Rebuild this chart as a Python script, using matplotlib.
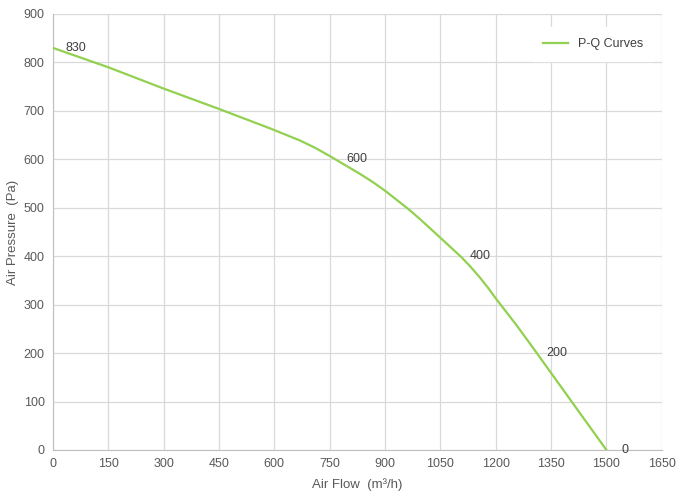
import matplotlib.pyplot as plt

plt.rcParams['font.family'] = ['Liberation Sans', 'DejaVu Sans']

# courbe P-Q
flow = [0, 150, 300, 450, 588, 669, 710, 752, 792, 832, 867, 902, 967, 1000,
        1050, 1080, 1107, 1132, 1157, 1180, 1200, 1257, 1300, 1350, 1500]
pressure = [830, 790, 746, 704, 664, 639, 624, 606, 588, 570, 553, 534, 495, 473,
            438, 417, 398, 378, 356, 334, 313, 257, 212, 159, 0]

# points étiquetés
lab_flow = [0, 762, 1104, 1309, 1500]
lab_pressure = [830, 600, 400, 200, 0]
lab_offset = [13, 12, 9, 10, 15]  # décalage en pixels

xticks = list(range(0, 1651, 150))
yticks = list(range(0, 901, 100))

fig = plt.figure(figsize=(6.91, 5), dpi=100)
ax = fig.add_axes([0.0767, 0.1, 0.881, 0.872])

ax.plot(flow, pressure, color='#92d050', lw=1.6, label='P-Q Curves', zorder=3,
        solid_joinstyle='round')
for x, y, d in zip(lab_flow, lab_pressure, lab_offset):
    ax.annotate(str(y), (x, y), xytext=(d, 0), textcoords='offset pixels',
                va='center', ha='left', fontsize=9, color='#404040', zorder=4)

ax.set_xlim(0, 1650)
ax.set_ylim(0, 900)
ax.set_xticks(xticks)
ax.set_yticks(yticks)
ax.grid(color='#d9d9d9', lw=0.9)
ax.set_axisbelow(True)
ax.tick_params(length=0, labelsize=9, colors='#595959', pad=6)
for s in ['top', 'right']:
    ax.spines[s].set_visible(False)
for s in ['left', 'bottom']:
    ax.spines[s].set_color('#bfbfbf')

ax.set_xlabel('Air Flow  (m³/h)', fontsize=9.5, color='#595959', labelpad=6)
ax.set_ylabel('Air Pressure  (Pa)', fontsize=9.5, color='#595959', labelpad=3)

leg = ax.legend(loc='upper right', bbox_to_anchor=(0.998, 0.985), frameon=True,
                fontsize=9, handlelength=2.0, borderpad=0.9)
leg.get_frame().set_facecolor('white')
leg.get_frame().set_edgecolor('white')
leg.get_frame().set_alpha(1)
for t in leg.get_texts():
    t.set_color('#404040')

fig.savefig('out.png', dpi=100)
